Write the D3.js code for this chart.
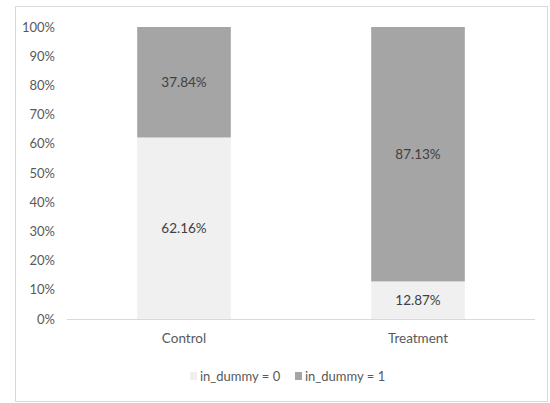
<!DOCTYPE html>
<html>
<head>
<meta charset="utf-8">
<script src="https://cdn.jsdelivr.net/npm/d3@7"></script>
<style>
  body { margin: 0; background: #fff; }
  svg text { font-family: Lato, "Open Sans", sans-serif; }
</style>
</head>
<body>
<svg id="root" width="550" height="403"></svg>
<script>
var d3 = window.d3

// data
const groups = ['Control', 'Treatment']
const seriesNames = ['in_dummy = 0', 'in_dummy = 1']
const dummy0 = [62.16, 12.87]
const dummy1 = [37.84, 87.13]
const yTicks = [0, 10, 20, 30, 40, 50, 60, 70, 80, 90, 100]

const colors = ['#f0f0f0', '#a5a5a5']

const svg = d3.select('#root')

// chart frame
svg.append('rect')
  .attr('x', 15.5).attr('y', 6.5)
  .attr('width', 532).attr('height', 395)
  .attr('fill', '#fff')
  .attr('stroke', '#d9d9d9')

const plotLeft = 67
const plotRight = 535
const plotTop = 27
const plotBottom = 319

const x = d3.scaleBand()
  .domain(groups)
  .range([plotLeft, plotRight])
  .paddingInner(0.6)
  .paddingOuter(0.3)

const y = d3.scaleLinear()
  .domain([0, 100])
  .range([plotBottom, plotTop])

// stack
const rows = groups.map((g, i) => ({ group: g, s0: dummy0[i], s1: dummy1[i] }))
const stacked = d3.stack().keys(['s0', 's1'])(rows)

svg.append('g')
  .selectAll('g')
  .data(stacked)
  .enter()
  .append('g')
  .attr('fill', (d, i) => colors[i])
  .selectAll('rect')
  .data(d => d)
  .enter()
  .append('rect')
  .attr('x', d => x(d.data.group))
  .attr('y', d => y(d[1]))
  .attr('width', x.bandwidth())
  .attr('height', d => y(d[0]) - y(d[1]))

// value labels
svg.append('g')
  .selectAll('g')
  .data(stacked)
  .enter()
  .append('g')
  .selectAll('text')
  .data(d => d.map(v => ({ v, key: d.key })))
  .enter()
  .append('text')
  .attr('x', d => x(d.v.data.group) + x.bandwidth() / 2)
  .attr('y', d => y((d.v[0] + d.v[1]) / 2) + 5)
  .attr('text-anchor', 'middle')
  .attr('font-size', 13.5)
  .attr('fill', '#404040')
  .text(d => d.v.data[d.key].toFixed(2) + '%')

// y axis (labels only)
const yAxis = d3.axisLeft(y)
  .tickValues(yTicks)
  .tickSize(0)
  .tickPadding(12)
  .tickFormat(d => d + '%')

const gy = svg.append('g')
  .attr('transform', `translate(${plotLeft},0)`)
  .call(yAxis)
  .attr('font-family', null)
  .attr('font-size', 13)
gy.select('.domain').remove()
gy.selectAll('text').attr('fill', '#595959')

// x axis
const xAxis = d3.axisBottom(x).tickSize(0).tickPadding(12)
const gx = svg.append('g')
  .attr('transform', `translate(0,${plotBottom})`)
  .call(xAxis)
  .attr('font-family', null)
  .attr('font-size', 13.5)
gx.select('.domain')
  .attr('stroke', '#d9d9d9')
  .attr('d', `M${plotLeft},0.5H${plotRight}`)
gx.selectAll('text')
  .attr('fill', '#595959')
  .attr('dy', '0.9em')

// legend
const legendX = [190, 295]
const legend = svg.append('g')
  .selectAll('g')
  .data(seriesNames)
  .enter()
  .append('g')
  .attr('transform', (d, i) => `translate(${legendX[i]},372)`)

legend.append('rect')
  .attr('width', 7).attr('height', 8)
  .attr('fill', (d, i) => colors[i])

legend.append('text')
  .attr('x', 10)
  .attr('y', 9)
  .attr('font-size', 13)
  .attr('fill', '#595959')
  .text(d => d)
</script>
</body>
</html>
